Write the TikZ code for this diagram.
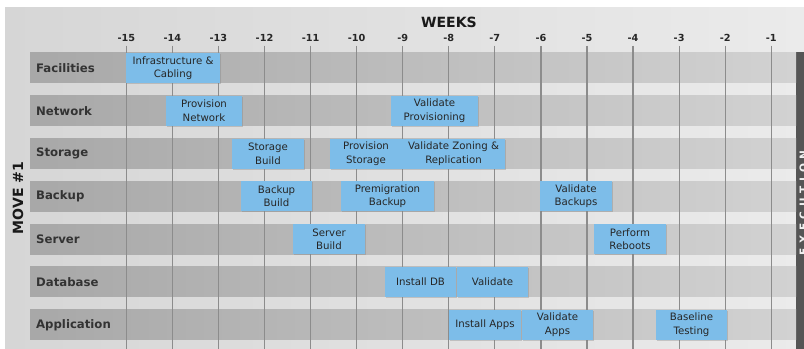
\documentclass[tikz,border=0pt]{standalone}
\usepackage{fontspec}
\setmainfont{DejaVu Sans}
\usetikzlibrary{positioning,shadows}

\definecolor{taskblue}{RGB}{125,189,233}
\definecolor{bgleft}{RGB}{214,214,214}
\definecolor{bgright}{RGB}{235,235,235}
\definecolor{rowleft}{RGB}{168,168,168}
\definecolor{rowright}{RGB}{210,210,210}
\definecolor{execgray}{RGB}{85,85,85}

\newcommand{\pxu}{0.03cm}
% one task box: name, from x, to x, row centre y, text
\newcommand{\taskbar}[5]{\node[taskbox, minimum width={(#3-#2)*\pxu}] (#1) at ({(#2+#3)/2},#4) {#5};}

\begin{document}
\begin{tikzpicture}[x=0.03cm, y=-0.03cm,
  taskbox/.style={fill=taskblue, text=black!85, align=center, inner sep=1pt,
    minimum height=30*\pxu, font=\fontsize{8.7}{11.5}\selectfont,
    drop shadow={shadow xshift=0.8pt, shadow yshift=-0.8pt, opacity=0.35}},
  rowlabel/.style={anchor=west, text=black!80, font=\bfseries\fontsize{10}{12}\selectfont},
  weeknum/.style={text=black!85, font=\bfseries\fontsize{8.3}{10}\selectfont},
  weekline/.style={draw=black!45, line width=1pt}]
\useasboundingbox (0,0) rectangle (804,349);
\clip (0,0) rectangle (804,349);

% background
\shade[left color=bgleft, right color=bgright] (5,8) rectangle (804,349);
\fill[execgray] (796,52) rectangle (810,349);
\node[rotate=90, text=white!88!gray, font=\bfseries\fontsize{9}{9}\selectfont] (exec) at (803.5,203)
  {E\hspace{4pt}X\hspace{4pt}E\hspace{4pt}C\hspace{4pt}U\hspace{4pt}T\hspace{4pt}I\hspace{4pt}O\hspace{4pt}N};

% rows
\foreach \lab [count=\i from 0] in {Facilities,Network,Storage,Backup,Server,Database,Application} {
  \shade[left color=rowleft, right color=rowright] (30,{53+42.8*\i}) rectangle (796,{83+42.8*\i});
  \node[rowlabel] (row\i) at (32,{68+42.8*\i}) {\lab};
}

\node[rotate=90, text=black!90, font=\bfseries\fontsize{12}{14}\selectfont] (move) at (18,198) {MOVE \#1};
\node[text=black!90, font=\bfseries\fontsize{12}{14}\selectfont] (weeks) at (449,22) {WEEKS};

% week scale
\foreach \w in {-15,...,-1} {
  \node[weeknum] (w\w) at ({126.3+(\w+15)*46.07},38) {\w};
  \draw[weekline] (w\w.south) -- ++(0,320);
}

% tasks
\taskbar{infra}{126}{220}{68}{Infrastructure \&\\Cabling}
\taskbar{provnet}{166}{242}{110.8}{Provision\\Network}
\taskbar{valprov}{391}{478}{110.8}{Validate\\Provisioning}
\taskbar{storbuild}{232}{304}{153.6}{Storage\\Build}
\taskbar{provstor}{330}{402}{153.6}{Provision\\Storage}
\taskbar{valzone}{402}{505}{153.6}{Validate Zoning \&\\Replication}
\taskbar{backbuild}{241}{312}{196.4}{Backup\\Build}
\taskbar{premig}{341}{434}{196.4}{Premigration\\Backup}
\taskbar{valback}{540}{612}{196.4}{Validate\\Backups}
\taskbar{servbuild}{293}{365}{239.2}{Server\\Build}
\taskbar{reboot}{594}{666}{239.2}{Perform\\Reboots}
\taskbar{instdb}{385}{456}{282}{Install DB}
\taskbar{valdb}{457}{528}{282}{Validate}
\taskbar{instapps}{449}{521}{324.8}{Install Apps}
\taskbar{valapps}{522}{593}{324.8}{Validate\\Apps}
\taskbar{baseline}{656}{727}{324.8}{Baseline\\Testing}
\end{tikzpicture}
\end{document}
